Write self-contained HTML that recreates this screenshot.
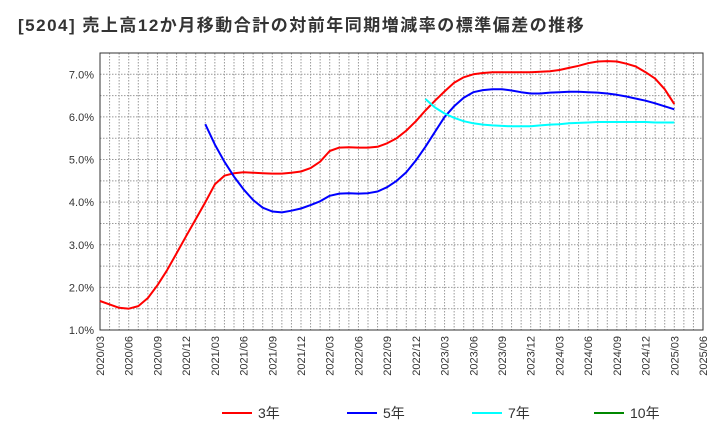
<!DOCTYPE html>
<html><head><meta charset="utf-8"><style>
body{margin:0;background:#fff;width:720px;height:440px;overflow:hidden;font-family:"Liberation Sans","Noto Sans CJK JP",sans-serif}
</style></head><body>
<svg id="c" width="720" height="440" xmlns="http://www.w3.org/2000/svg">
<text x="18" y="31" font-size="17" letter-spacing="1.5" font-weight="bold" fill="#333" font-family="Liberation Sans, Noto Sans CJK JP, sans-serif">[5204]  売上高12か月移動合計の対前年同期増減率の標準偏差の推移</text>
</svg>
<script>
const yTicks=[1,2,3,4,5,6,7];
const xLabels=["2020/03","2020/06","2020/09","2020/12","2021/03","2021/06","2021/09","2021/12","2022/03","2022/06","2022/09","2022/12","2023/03","2023/06","2023/09","2023/12","2024/03","2024/06","2024/09","2024/12","2025/03","2025/06"];
// monthly values starting 2020/03
const s3=[1.68,1.6,1.52,1.5,1.56,1.75,2.05,2.4,2.8,3.2,3.6,4.0,4.42,4.62,4.68,4.7,4.69,4.68,4.67,4.67,4.69,4.72,4.8,4.95,5.2,5.28,5.29,5.28,5.28,5.3,5.38,5.5,5.68,5.9,6.15,6.38,6.6,6.8,6.93,7.0,7.03,7.05,7.05,7.05,7.05,7.05,7.06,7.07,7.1,7.15,7.2,7.26,7.3,7.31,7.3,7.25,7.18,7.05,6.9,6.65,6.3];
const s5start=11;
const s5=[5.83,5.35,4.95,4.6,4.3,4.05,3.87,3.78,3.76,3.8,3.85,3.93,4.02,4.15,4.2,4.21,4.2,4.21,4.25,4.35,4.5,4.7,4.98,5.3,5.65,6.0,6.25,6.45,6.58,6.63,6.65,6.65,6.62,6.58,6.55,6.55,6.57,6.58,6.59,6.59,6.58,6.57,6.55,6.52,6.48,6.43,6.38,6.32,6.25,6.18];
const s7start=34;
const s7=[6.42,6.22,6.08,5.98,5.9,5.85,5.82,5.8,5.79,5.78,5.78,5.78,5.8,5.82,5.83,5.85,5.86,5.87,5.88,5.88,5.88,5.88,5.88,5.88,5.87,5.87,5.87];
const L=100,R=703,T=53,B=330,ymin=1,ymax=7.5,nM=63;
const X=m=>L+(R-L)*m/nM, Y=v=>B-(B-T)*(v-ymin)/(ymax-ymin);
const svg=document.getElementById('c');const NS="http://www.w3.org/2000/svg";
function el(t,a,p){const e=document.createElementNS(NS,t);for(const k in a)e.setAttribute(k,a[k]);(p||svg).appendChild(e);return e;}
for(let m=1;m<nM;m++){const g=el('line',{x1:X(m),x2:X(m),y1:T,y2:B,stroke:'#999','stroke-dasharray':'1.5,1.5','stroke-width':1});

}
for(let v=1.5;v<7.5;v+=0.5){const g=el('line',{x1:L,x2:R,y1:Y(v),y2:Y(v),stroke:'#999','stroke-dasharray':'1.5,1.5','stroke-width':1});

}
yTicks.forEach(v=>{const t=el('text',{x:L-6,y:Y(v)+4,'text-anchor':'end','font-size':11,fill:'#333'});t.textContent=v.toFixed(1)+'%';

});
xLabels.forEach((s,i)=>{const x=X(i*3)+4;const t=el('text',{x:x,y:B+6,'text-anchor':'end','font-size':11,fill:'#333',transform:`rotate(-90 ${x} ${B+6})`});t.textContent=s;

});
const fr=el('rect',{x:L,y:T,width:R-L,height:B-T,fill:'none',stroke:'#333','stroke-width':1});


function line(arr,start,col,name){const pts=arr.map((v,i)=>X(start+i).toFixed(1)+','+Y(v).toFixed(1)).join(' ');
const p=el('polyline',{points:pts,fill:'none',stroke:col,'stroke-width':2,'stroke-linejoin':'round'});

}
line(s3,0,'#f00','series-3y');line(s5,s5start,'#00f','series-5y');line(s7,s7start,'#0ff','series-7y');
const leg=[["3年","#f00",222],["5年","#00f",347],["7年","#0ff",472],["10年","#080",594]];
leg.forEach(([n,c,x])=>{const g=el('g',{});


el('line',{x1:x,x2:x+30,y1:413,y2:413,stroke:c,'stroke-width':2},g);
const t=el('text',{x:x+36,y:418,'font-size':14,fill:'#333'},g);t.textContent=n;});
</script>
</body></html>
